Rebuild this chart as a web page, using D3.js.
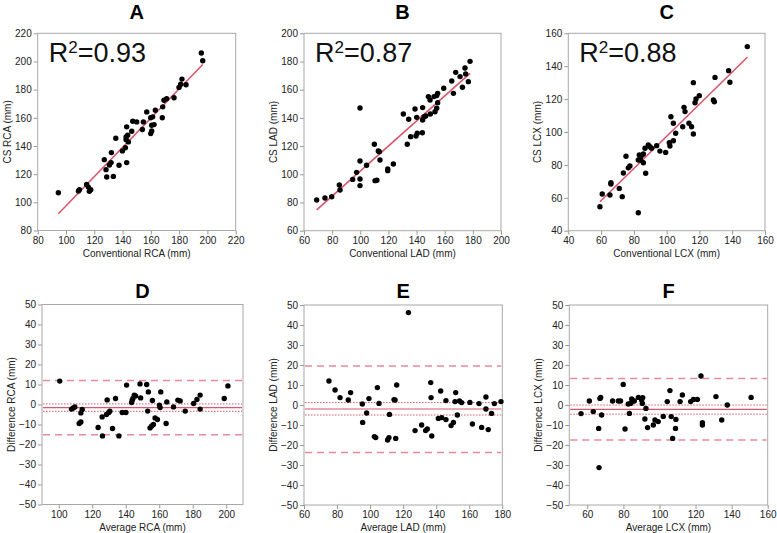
<!DOCTYPE html>
<html>
<head>
<meta charset="utf-8">
<script src="https://cdn.jsdelivr.net/npm/d3@7"></script>
<style>
body { margin: 0; background: #fff; }
text { font-family: "Liberation Sans", Arial, sans-serif; }
</style>
</head>
<body>
<script>
var width = 777
var height = 533

// scatter data: [conventional, CS]
var rcaPairs = [[94.6,106.8],[108.8,108],[109.5,109],[114.6,112.7],[115.8,110.8],[116.5,107.8],[117.5,109],
  [127.1,130.3],[128.3,123.2],[128.8,118],[130.7,126.5],[131.9,128.2],[132.1,135.3],[133.5,118.4],[135.2,145.5],
  [137.5,126.3],[139.9,136.5],[142,138.8],[142.5,144.5],[142.5,146.4],[142.9,153.6],[142.9,128.2],[143.6,147.6],
  [144.1,142.9],[146.5,150.5],[147.2,157.6],[150,157.1],[154,151.7],[154.7,157.1],[157.1,164.2],[159.9,160],
  [159.9,148.8],[160.6,150.7],[160.6,154.7],[161.3,160.7],[162.3,155.2],[163.2,165.4],[168.4,167.8],[168.1,160],
  [169.3,172.5],[171.2,173.5],[176.4,174.2],[179.9,181.6],[181.1,183.9],[182,187.5],[184.9,183.5],[195.7,206],[196.7,200.5]]
var ladPairs = [[69,81.8],[74.9,83.2],[79.7,84.1],[85.1,92.4],[85.6,88.9],[94.6,96.4],[97.4,101.4],[99.8,109.4],
  [99.8,96.7],[99.8,92],[99.8,147],[104.5,106.4],[110,121.3],[110.5,95.5],[111.8,95.8],[112.8,116.5],[113.5,116],
  [114,110.1],[119.5,103.8],[119.5,102.6],[123.5,107.3],[130.6,142.8],[133.4,121.3],[134.4,139],[135.8,126.7],
  [138.9,146.3],[139.6,127.2],[140.5,129.1],[140.1,140.4],[144.1,129.5],[144.3,138.5],[144.3,147.3],[145.3,140.9],
  [146.5,141.4],[148.4,155.1],[149.6,152.7],[149.8,142.8],[152.4,155.1],[153.1,144.4],[154.3,155.8],[154.3,146.8],
  [155,157.4],[155,150.8],[159.3,161],[165,166.2],[166.2,157.4],[167.8,172.3],[170.9,169.3],[172.6,161.7],
  [174.4,175.4],[174.9,171.2],[176.8,165.7],[178,180.1]]
var lcxPairs = [[59.3,54.6],[60.7,62.3],[65.4,61.7],[66,69.2],[66,68.4],[71.1,65.7],[72.9,60.7],[73.6,75.1],
  [75.2,85.3],[76.6,78.2],[77.6,79.3],[82.7,50.9],[82.7,83],[83.3,86],[84.1,83],[84.7,85.7],[85.8,81.3],[85.8,86.6],
  [86.8,90.1],[87.2,74.9],[88.8,92.1],[89.8,91.1],[90.8,90.1],[93.9,91.7],[95.9,88.4],[99.4,87.6],[101.6,93.5],
  [102,91.5],[102.6,109.3],[104.1,105.3],[104.1,94.7],[105.5,99.2],[109.8,103.2],[110.6,115],[111.2,112.4],
  [113.6,105.3],[115.2,103.2],[116.3,98.8],[116.3,130],[117.3,117.8],[117.9,120.1],[119.9,122.1],[128.5,119.5],
  [129.1,118.4],[129.5,133.2],[137.8,137.3],[138.6,130.2],[149.2,151.9]]

// Bland-Altman data: [average, difference]
var rcaDiff = [[100.6,11.7],[107.6,-2.3],[108.6,-1.7],[109.6,-1.2],[112.2,-9.5],[113.2,-8.7],[113.2,-4.2],[114,-2.5],
  [123.5,-11.5],[125.9,-6.2],[126.1,-15.7],[128.5,-5],[128.9,2.3],[129.9,-4],[130.5,-3.3],[132.1,-12],[133.9,3],
  [135.9,-15.7],[137.9,-4],[140.1,-4],[140.5,9.7],[143.5,1],[143.9,2.3],[144.3,3],[145.1,4.7],[145.9,4.3],
  [148.5,10.3],[148.9,3.3],[152.5,10],[153.1,-3.3],[153.5,6.3],[154.5,-11.7],[155.5,-10.7],[155.9,2],[156.5,-10],
  [157.5,-6.7],[158.9,-7.5],[160.1,-0.3],[160.5,-1.5],[160.9,6.3],[164.1,-9.5],[164.5,1.3],[168.5,-1.2],
  [171.1,2.2],[172.5,1.8],[175.5,-3.3],[180.5,0.5],[182.5,2.5],[184.4,4.7],[184.4,-2.3],[198.8,3],[201,9.3]]
var ladDiff = [[75.1,12],[78.8,7.5],[81.8,3.7],[86.8,2.5],[88.2,6.2],[95.3,0.5],[95.5,-8.7],[97.9,-4],[99.3,3.2],
  [102.6,-15.8],[103.4,-16.3],[104.4,8.7],[105.4,0.8],[110.6,-17.5],[111.4,-16.3],[111.7,-4.7],[114.5,2.7],
  [115.1,2.5],[115.5,-16.7],[116.1,10],[123.2,46.2],[127.2,-12.8],[131.2,-10],[133.6,-12.8],[134.6,-12],
  [136.7,11.2],[136.9,3.7],[137.3,-15.5],[141.3,-6.7],[142.7,7],[143.3,-6.3],[145.9,2.2],[145.9,-7.3],
  [149,-10.3],[150.4,-8.7],[151.4,1.7],[151.8,6.2],[152.8,-5],[154.1,2],[155.4,1.2],[160.4,1.3],[161.9,-9.5],
  [165.9,0.7],[167.5,-11.2],[170.1,4],[170.1,-2],[171.5,-12.3],[173.5,-4.2],[175.2,0.7],[179.2,1.7]]
var lcxDiff = [[56.5,-4.3],[61.1,2],[63.3,-3.3],[66.3,-11.7],[66.5,-31.3],[67,3.3],[67.4,3.8],[67.9,-5],[74,2],
  [77.2,2],[78.4,2],[79.9,10.3],[80.9,-12],[82.7,0.5],[83.3,-4.2],[84,0.8],[84.6,3],[85.1,2],[86,2],[88.3,3.8],
  [90.1,2.5],[90.5,0.8],[90.7,3.7],[91.9,-7],[92.5,-1.7],[93.4,-11.3],[96.6,-10],[97.5,-7.5],[99.3,-8.3],
  [102.1,-5.7],[104.3,1.7],[105.8,7.2],[106.5,-5.8],[107.3,-16.7],[108.9,-11.7],[109.1,-7.2],[111.4,1.7],
  [112.7,5],[117.3,1.7],[118.8,2.8],[121,2.8],[123,14.5],[123.8,-8.8],[123.8,-10],[131.3,4.2],[134.5,-7.5],
  [137.6,0],[150.8,3.8]]

// fit lines: [intercept, slope], and R squared
var fitLines = [[-6.3, 1.038], [13.4, 0.889], [-0.34, 0.977]]
var rSquared = ['0.93', '0.87', '0.88']

// Bland-Altman lines: [lower LoA, lower CI, mean, upper CI, upper LoA]
var baLines = [[-15.1, -3.4, -1.6, 0.3, 12], [-23.7, -5, -2, 1.2, 19.5], [-17.5, -4.6, -2.2, 0, 13.3]]

var panelLetters = ['A', 'B', 'C', 'D', 'E', 'F']
var scatterXDomains = [[80, 220], [60, 200], [40, 160]]
var scatterYDomains = [[80, 220], [60, 200], [40, 160]]
var baXDomains = [[90, 210], [60, 180], [50, 160]]
var baXTicks = [[100, 120, 140, 160, 180, 200], [60, 80, 100, 120, 140, 160, 180], [60, 80, 100, 120, 140, 160]]
var baYDomain = [-50, 50]
var vessels = ['RCA', 'LAD', 'LCX']

var red = '#d9566c'
var pink = '#e8899c'

var svg = d3.select('body').append('svg')
    .attr('width', width)
    .attr('height', height)

// frames, in pixels
var topFrames = [[37.7, 235.7, 33.3, 230.5], [304, 501, 33.3, 230.7], [568.3, 765, 33.3, 230.7]]
var botFrames = [[42, 243, 304.5, 504.5], [304, 502.3, 305, 505], [569.3, 767.7, 305, 505]]

function panelBase (f, xd, yd, xticks, yticks, letter, xlabel, ylabel, letterY) {
	var g = svg.append('g')
	var x = d3.scaleLinear().domain(xd).range([f[0], f[1]])
	var y = d3.scaleLinear().domain(yd).range([f[3], f[2]])

	g.append('text')
	    .attr('x', (f[0] + f[1]) / 2)
	    .attr('y', letterY)
	    .attr('text-anchor', 'middle')
	    .style('font-size', '20px')
	    .style('font-weight', 'bold')
	    .text(letter)

	var xa = g.append('g')
	    .attr('transform', 'translate(0,' + f[3] + ')')
	    .call(d3.axisBottom(x).tickValues(xticks).tickSize(4).tickPadding(2).tickFormat(d3.format('d')))
	var ya = g.append('g')
	    .attr('transform', 'translate(' + f[0] + ',0)')
	    .call(d3.axisLeft(y).tickValues(yticks).tickSize(4).tickPadding(2).tickFormat(d3.format('d')))
	;[xa, ya].forEach(function (a) {
		a.select('.domain').remove()
		a.selectAll('line').attr('stroke', '#999')
		a.selectAll('text').style('font-size', '10px').attr('fill', '#222')
	})

	g.append('rect')
	    .attr('x', f[0]).attr('y', f[2])
	    .attr('width', f[1] - f[0]).attr('height', f[3] - f[2])
	    .attr('fill', 'none').attr('stroke', '#a8a8a8')

	g.append('text')
	    .attr('x', (f[0] + f[1]) / 2)
	    .attr('y', f[3] + 26)
	    .attr('text-anchor', 'middle')
	    .style('font-size', '10px')
	    .attr('fill', '#222')
	    .text(xlabel)

	g.append('text')
	    .attr('transform', 'translate(' + (f[0] - 27) + ',' + (f[2] + f[3]) / 2 + ') rotate(-90)')
	    .attr('text-anchor', 'middle')
	    .style('font-size', '10px')
	    .attr('fill', '#222')
	    .text(ylabel)

	return {g: g, x: x, y: y}
}

var scatterSets = [rcaPairs, ladPairs, lcxPairs]
scatterSets.forEach(function (data, i) {
	var f = topFrames[i]
	var xd = scatterXDomains[i], yd = scatterYDomains[i]
	var p = panelBase(f, xd, yd, d3.range(xd[0], xd[1] + 1, 20), d3.range(yd[0], yd[1] + 1, 20),
		panelLetters[i], 'Conventional ' + vessels[i] + ' (mm)', 'CS ' + vessels[i] + ' (mm)', 19)

	var ext = d3.extent(data, function (d) { return d[0] })
	var fit = fitLines[i]
	p.g.append('line')
	    .attr('x1', p.x(ext[0])).attr('y1', p.y(fit[0] + fit[1] * ext[0]))
	    .attr('x2', p.x(ext[1])).attr('y2', p.y(fit[0] + fit[1] * ext[1]))
	    .attr('stroke', red).attr('stroke-width', 1.6)

	p.g.selectAll('circle')
	    .data(data)
	  .enter().append('circle')
	    .attr('cx', function (d) { return p.x(d[0]) })
	    .attr('cy', function (d) { return p.y(d[1]) })
	    .attr('r', 2.7)
	    .style('fill', 'black')

	var rt = p.g.append('text')
	    .attr('x', f[0] + 11)
	    .attr('y', f[2] + 29)
	    .style('font-size', '27px')
	    .attr('fill', '#111')
	rt.append('tspan').text('R')
	rt.append('tspan').attr('dy', -9).style('font-size', '17px').text('2')
	rt.append('tspan').attr('dy', 9).text('=' + rSquared[i])
})

var baSets = [rcaDiff, ladDiff, lcxDiff]
baSets.forEach(function (data, i) {
	var f = botFrames[i]
	var p = panelBase(f, baXDomains[i], baYDomain, baXTicks[i], d3.range(-50, 51, 10),
		panelLetters[i + 3], 'Average ' + vessels[i] + ' (mm)', 'Difference ' + vessels[i] + ' (mm)', 298)

	var styles = [
		{c: pink, w: 1.5, dash: '7,5'},
		{c: red, w: 1, dash: '1.5,1.5'},
		{c: red, w: 1.2, dash: null},
		{c: red, w: 1, dash: '1.5,1.5'},
		{c: pink, w: 1.5, dash: '7,5'}
	]
	baLines[i].forEach(function (v, k) {
		p.g.append('line')
		    .attr('x1', f[0] + 1).attr('x2', f[1] - 1)
		    .attr('y1', p.y(v)).attr('y2', p.y(v))
		    .attr('stroke', styles[k].c)
		    .attr('stroke-width', styles[k].w)
		    .attr('stroke-dasharray', styles[k].dash)
	})

	p.g.selectAll('circle')
	    .data(data)
	  .enter().append('circle')
	    .attr('cx', function (d) { return p.x(d[0]) })
	    .attr('cy', function (d) { return p.y(d[1]) })
	    .attr('r', 2.7)
	    .style('fill', 'black')
})
</script>
</body>
</html>
